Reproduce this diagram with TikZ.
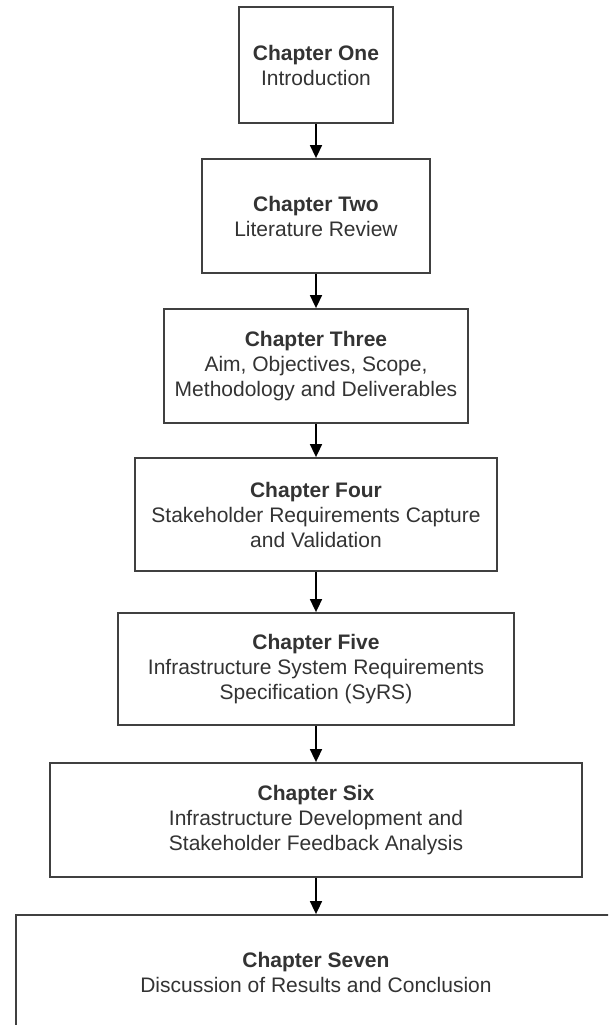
\documentclass[tikz,border=0pt]{standalone}
\usepackage{fontspec}
\setmainfont{Liberation Sans}
\usetikzlibrary{arrows.meta}
\definecolor{edge}{HTML}{404040}
\definecolor{ink}{HTML}{333333}
\begin{document}
\begin{tikzpicture}[x=1pt,y=-1pt,
  chapter/.style={draw=edge, line width=1.8pt, fill=white, align=center,
    inner sep=0pt, text=ink, font=\fontsize{21}{25}\selectfont},
  flow/.style={-{Triangle[length=13pt,width=12pt]}, line width=1.6pt, black}]
\useasboundingbox (0,0) rectangle (608,1025);
\clip (0,0) rectangle (608,1025);
\fill[white] (0,0) rectangle (608,1025);

% chapter boxes, top to bottom
\node[chapter, minimum width=154pt, minimum height=116pt] (c1) at (316,65)
  {\textbf{Chapter One}\\Introduction};
\node[chapter, minimum width=228pt, minimum height=114pt] (c2) at (316,216)
  {\textbf{Chapter Two}\\Literature Review};
\node[chapter, minimum width=304pt, minimum height=114pt] (c3) at (316,366)
  {\textbf{Chapter Three}\\Aim, Objectives, Scope,\\Methodology and Deliverables};
\node[chapter, minimum width=362pt, minimum height=113pt] (c4) at (316,514.5)
  {\textbf{Chapter Four}\\Stakeholder Requirements Capture\\and Validation};
\node[chapter, minimum width=396pt, minimum height=112pt] (c5) at (316,669)
  {\textbf{Chapter Five}\\Infrastructure System Requirements\\Specification (SyRS)};
\node[chapter, minimum width=532pt, minimum height=114pt] (c6) at (316,820)
  {\textbf{Chapter Six}\\Infrastructure Development and\\Stakeholder Feedback Analysis};
\node[chapter, minimum width=600pt, minimum height=115pt] (c7) at (316,972.5)
  {\textbf{Chapter Seven}\\Discussion of Results and Conclusion};

% connectors
\draw[flow] (c1.south) -- (c2.north);
\draw[flow] (c2.south) -- (c3.north);
\draw[flow] (c3.south) -- (c4.north);
\draw[flow] (c4.south) -- (c5.north);
\draw[flow] (c5.south) -- (c6.north);
\draw[flow] (c6.south) -- (c7.north);
\end{tikzpicture}
\end{document}
